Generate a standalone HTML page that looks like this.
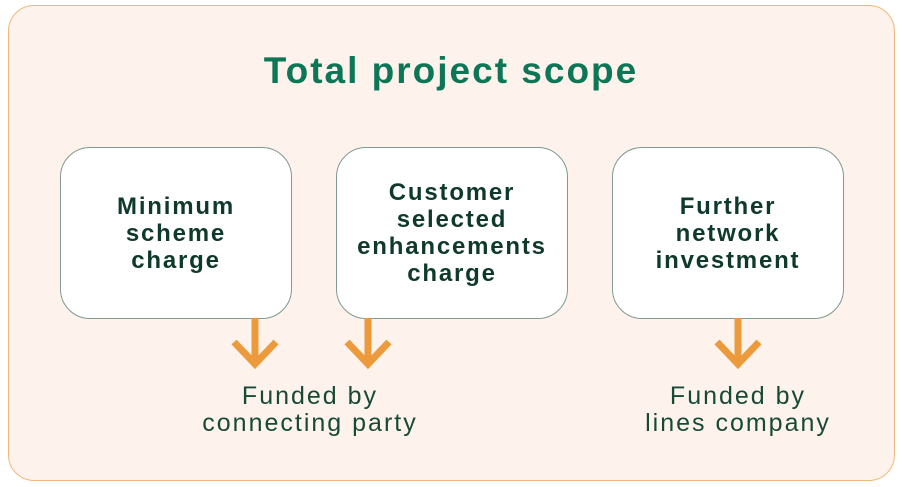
<!DOCTYPE html>
<html><head><style>
body{margin:0;width:902px;height:487px;background:#fff;position:relative;font-family:"Liberation Sans",sans-serif;overflow:hidden}
.outer{position:absolute;left:8px;top:5px;width:885px;height:474px;border:1.5px solid #efb87a;border-radius:26px;background:#fdf3ec}
.t{position:absolute;left:0;width:902px;top:50px;text-align:center;font-size:37px;font-weight:bold;color:#0c7656;letter-spacing:2px}
.box{position:absolute;top:147px;width:230px;height:170px;border:1.5px solid #7f9a90;border-radius:30px;background:#fff;display:flex;align-items:center;justify-content:center;text-align:center;font-weight:bold;font-size:24px;line-height:27px;color:#0f3a2b;letter-spacing:1.8px}
.f{position:absolute;text-align:center;font-size:25px;line-height:27px;color:#174a36;letter-spacing:2px}
</style></head><body>
<div class="outer"></div>
<div class="t">Total project scope</div>
<div class="box" style="left:60px">Minimum<br>scheme<br>charge</div>
<div class="box" style="left:336px">Customer<br>selected<br>enhancements<br>charge</div>
<div class="box" style="left:612px">Further<br>network<br>investment</div>
<svg width="902" height="487" style="position:absolute;left:0;top:0">
<g stroke="#ec9a3c" stroke-width="7" fill="none">
<path d="M255 318V364M234 342L255 364L276 342"/>
<path d="M368 318V364M347 342L368 364L389 342"/>
<path d="M738 318V364M717 342L738 364L759 342"/>
</g></svg>
<div class="f" style="left:150px;width:320px;top:383px">Funded by<br>connecting party</div>
<div class="f" style="left:590px;width:296px;top:383px">Funded by<br>lines company</div>
</body></html>
